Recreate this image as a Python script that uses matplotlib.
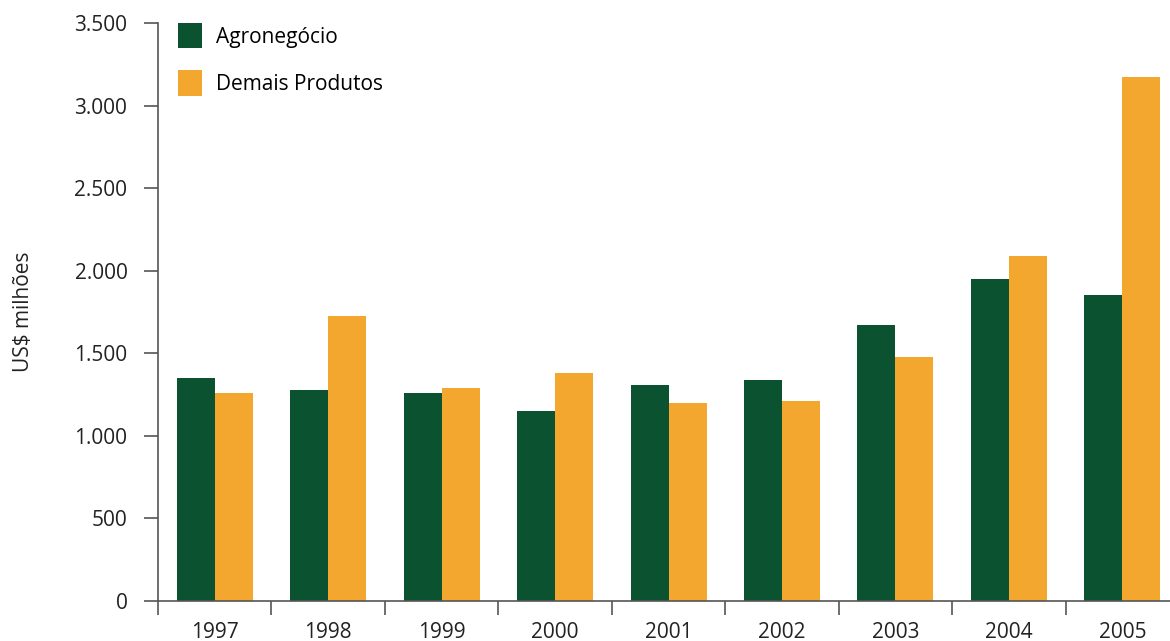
import numpy as np
import matplotlib.pyplot as plt
from matplotlib.ticker import FuncFormatter, FixedLocator

plt.rcParams['font.family'] = ['Open Sans', 'DejaVu Sans']

anos = ['1997', '1998', '1999', '2000', '2001', '2002', '2003', '2004', '2005']
agronegocio = [1351, 1278, 1260, 1151, 1308, 1339, 1672, 1950, 1853]
demais = [1260, 1726, 1290, 1381, 1199, 1211, 1478, 2090, 3174]

verde = '#0a5230'
laranja = '#f4a72e'
cinza = '#555555'
texto = '#222222'
fs = 15

fig = plt.figure(figsize=(11.7, 6.41), dpi=100)
ax = fig.add_axes([0.135, 0.0624, 0.865, 0.9016])

x = np.arange(len(anos))
w = 0.335
ax.bar(x - w / 2, agronegocio, width=w, color=verde, label='Agronegócio')
ax.bar(x + w / 2, demais, width=w, color=laranja, label='Demais Produtos')

ax.set_xlim(-0.5, 8.42)
ax.set_ylim(0, 3500)
ax.set_yticks(np.arange(0, 3501, 500))
ax.yaxis.set_major_formatter(FuncFormatter(lambda v, p: f'{int(v):,}'.replace(',', '.')))

ax.set_xticks(x)
ax.set_xticklabels(anos)
ax.xaxis.set_minor_locator(FixedLocator(np.arange(-0.5, 9, 1)))
ax.tick_params(axis='x', which='major', length=0, pad=15, labelsize=fs, colors=texto)
ax.tick_params(axis='x', which='minor', length=10, width=1.2, color=cinza, direction='out')
ax.tick_params(axis='y', length=10, width=1.2, color=cinza, labelsize=fs, pad=12, labelcolor=texto)

for s in ['top', 'right']:
    ax.spines[s].set_visible(False)
for s in ['left', 'bottom']:
    ax.spines[s].set_color(cinza)
    ax.spines[s].set_linewidth(1.2)

ax.set_ylabel('US$ milhões', fontsize=fs, color=texto, labelpad=29)

leg = ax.legend(loc='upper left', bbox_to_anchor=(0.02, 1.0), frameon=False,
                fontsize=fs, handlelength=1.15, handleheight=1.5, borderpad=0,
                handletextpad=0.65, labelspacing=1.05, borderaxespad=0)

fig.savefig('out.png', dpi=100)
